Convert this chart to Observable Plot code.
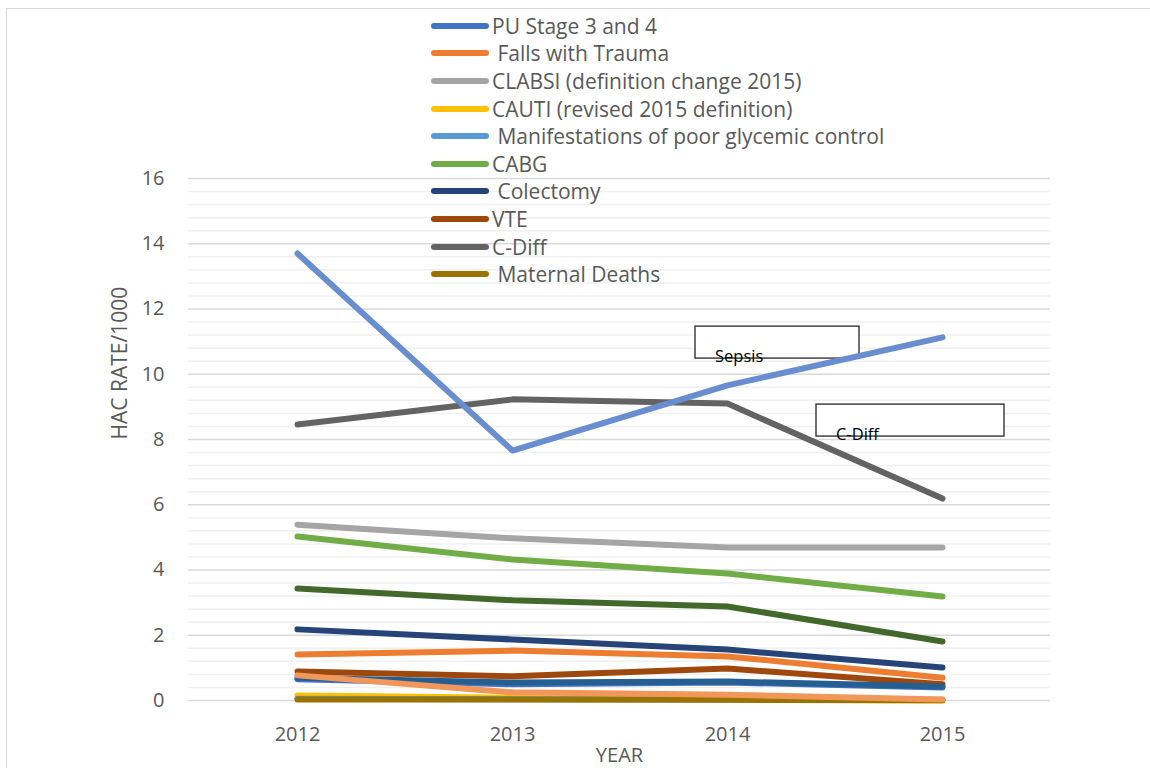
<!DOCTYPE html>
<html><head><meta charset="utf-8">
<script src="https://cdn.jsdelivr.net/npm/d3@7"></script>
<script src="https://cdn.jsdelivr.net/npm/@observablehq/plot@0.6"></script>
<style>
body{margin:0;background:#fff;}
#wrap{position:relative;width:1150px;height:768px;overflow:hidden;font-family:"Open Sans",sans-serif;}
#border{position:absolute;left:6px;top:8px;width:1200px;height:800px;border:1.5px solid #d9d9d9;}
#chart{position:absolute;left:0;top:0;}
#legend{position:absolute;left:431px;top:12px;}
.item{display:flex;align-items:center;height:27.6px;font-size:21px;color:#595959;white-space:pre;}
.sw{width:58px;height:6px;border-radius:3px;margin-right:3px;flex:none;}
</style></head>
<body><div id="wrap"><div id="border"></div><div id="chart"></div><div id="legend"></div></div>
<script>
const years = ["2012", "2013", "2014", "2015"];
const seriesNames = [
  "PU Stage 3 and 4", " Falls with Trauma", "CLABSI (definition change 2015)",
  "CAUTI (revised 2015 definition)", " Manifestations of poor glycemic control",
  "CABG", " Colectomy", "VTE", "C-Diff", " Maternal Deaths",
  "Series 11", "Series 12", "Sepsis", "Series 14"
];
const seriesColors = [
  "#4472C4", "#ED7D31", "#A5A5A5", "#FFC000", "#5B9BD5", "#70AD47",
  "#264478", "#9E480E", "#636363", "#997300", "#255E91", "#43682B",
  "#698ED0", "#F1975A"
];
const legendCount = 10;
const seriesValues = [
  [0.65, 0.50, 0.55, 0.40],
  [1.41, 1.53, 1.35, 0.70],
  [5.39, 4.97, 4.69, 4.69],
  [0.15, 0.08, 0.03, 0.00],
  [0.05, 0.04, 0.03, 0.02],
  [5.03, 4.32, 3.89, 3.19],
  [2.18, 1.87, 1.56, 1.01],
  [0.89, 0.74, 0.98, 0.50],
  [8.46, 9.23, 9.10, 6.19],
  [0.03, 0.03, 0.02, 0.01],
  [0.70, 0.55, 0.58, 0.43],
  [3.43, 3.07, 2.88, 1.81],
  [13.70, 7.66, 9.66, 11.13],
  [0.77, 0.25, 0.18, 0.03]
];
const yTicks = [0, 2, 4, 6, 8, 10, 12, 14, 16];
const annotations = [
  {label: "Sepsis", year: "2014", top: 11.46, bottom: 10.48, left: -32, right: 132},
  {label: "C-Diff", year: "2015", top: 9.07, bottom: 8.09, left: -126, right: 62}
];

const majorGrid = yTicks;
const minorGrid = d3.range(0, 16.001, 0.4).filter(v => Math.abs(v / 2 - Math.round(v / 2)) > 1e-6);

const lineMarks = seriesNames.map((name, i) =>
  Plot.line(years.map((yr, j) => ({year: yr, value: seriesValues[i][j]})), {
    x: "year", y: "value", stroke: seriesColors[i], strokeWidth: 6,
    strokeLinecap: "round", strokeLinejoin: "round", className: "series-line"
  })
);

const chart = Plot.plot({
  width: 1150, height: 768,
  marginTop: 178, marginBottom: 68, marginLeft: 188, marginRight: 100,
  style: {fontFamily: "Open Sans, sans-serif", fontSize: "20px", color: "#595959", background: "transparent"},
  x: {type: "point", domain: years, padding: 0.5, label: null},
  y: {domain: [0, 16], label: null},
  marks: [
    Plot.ruleY(minorGrid, {stroke: "#f0f0f0", strokeWidth: 1.5}),
    Plot.ruleY(majorGrid, {stroke: "#d9d9d9", strokeWidth: 1.5}),
    Plot.axisY({ticks: yTicks, tickSize: 0, tickPadding: 24, label: null, fontSize: 20}),
    Plot.axisX({tickSize: 0, tickPadding: 26, label: null, fontSize: 20}),
    Plot.text(["HAC RATE/1000"], {frameAnchor: "left", dx: -68, rotate: -90, fontSize: 21, fill: "#595959", lineAnchor: "middle"}),
    Plot.text(["YEAR"], {frameAnchor: "bottom", dy: 55, fontSize: 20, fill: "#595959", lineAnchor: "middle"}),
    ...lineMarks
  ]
});
document.getElementById("chart").append(chart);

// annotation boxes, placed with the chart's own scales, below the lines
const xs = chart.scale("x"), ys = chart.scale("y");
const svg = d3.select(chart);
const firstLine = chart.querySelector(".series-line");
const ann = svg.insert("g", () => firstLine);
annotations.forEach(a => {
  const cx = xs.apply(a.year);
  const y1 = ys.apply(a.top), y2 = ys.apply(a.bottom);
  ann.append("rect").attr("x", cx + a.left).attr("y", y1)
    .attr("width", a.right - a.left).attr("height", y2 - y1)
    .attr("fill", "#fff").attr("stroke", "#262626").attr("stroke-width", 1.3);
  ann.append("text").attr("x", cx + a.left + 20).attr("y", y2 + 4)
    .attr("text-anchor", "start")
    .attr("font-size", 16.5).attr("fill", "#000").text(a.label);
});

// legend
const leg = d3.select("#legend");
seriesNames.slice(0, legendCount).forEach((name, i) => {
  const it = leg.append("div").attr("class", "item");
  it.append("div").attr("class", "sw").style("background", seriesColors[i]);
  it.append("span").text(name);
});
</script>
</body></html>
